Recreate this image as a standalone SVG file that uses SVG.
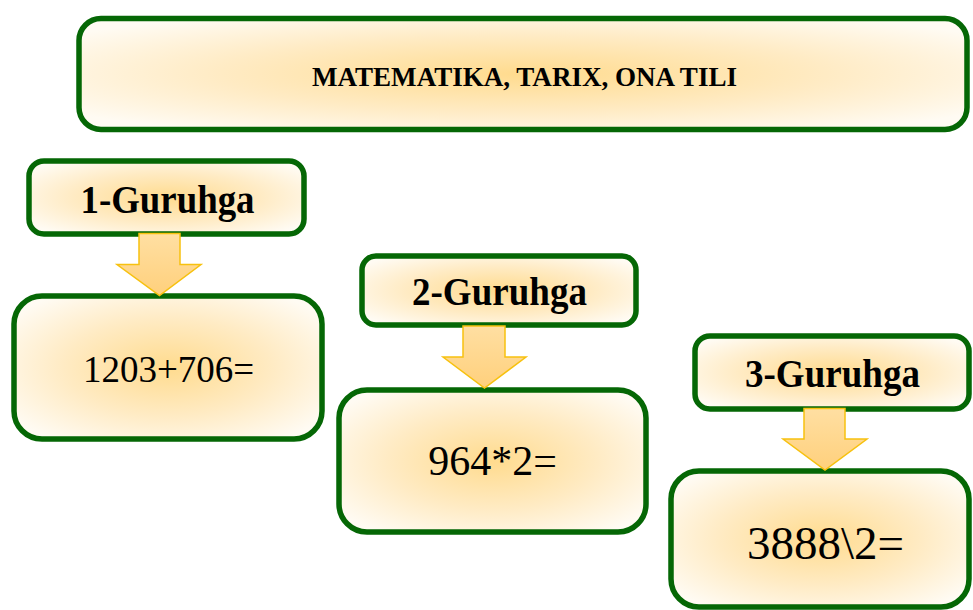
<svg xmlns="http://www.w3.org/2000/svg" width="973" height="610" viewBox="0 0 973 610">
  <defs>
    <radialGradient id="boxFill" cx="0.5" cy="0.5" r="0.62">
      <stop offset="0" stop-color="#FFDB8E"/>
      <stop offset="0.55" stop-color="#FFEBC4"/>
      <stop offset="1" stop-color="#FFFBF3"/>
    </radialGradient>
    <linearGradient id="arrowFill" x1="0" y1="0" x2="0" y2="1">
      <stop offset="0" stop-color="#FFDFA2"/>
      <stop offset="1" stop-color="#FFD07C"/>
    </linearGradient>
    <style>
      .box { fill: url(#boxFill); stroke: #056705; stroke-width: 5.5; }
      .arrow { fill: url(#arrowFill); stroke: #F7C10F; stroke-width: 1.5; stroke-linejoin: miter; }
      .title { font-family: "Liberation Serif", "Times New Roman", serif; font-weight: bold; fill: #000; text-anchor: middle; }
      .num { font-family: "Liberation Serif", "Times New Roman", serif; fill: #000; text-anchor: middle; }
    </style>
  </defs>
  <rect width="973" height="610" fill="#FFFFFF"/>

  <g id="node-subjects">
    <rect class="box" x="79" y="18.5" width="888" height="111" rx="22"/>
    <text class="title" x="524.5" y="85.5" font-size="27" textLength="425" lengthAdjust="spacingAndGlyphs">MATEMATIKA, TARIX, ONA TILI</text>
  </g>

  <g id="node-group1">
    <rect class="box" x="29" y="161" width="275" height="73" rx="15"/>
    <text class="title" x="167.5" y="213" font-size="40" textLength="174" lengthAdjust="spacingAndGlyphs">1-Guruhga</text>
  </g>

  <g id="node-task1">
    <rect class="box" x="14" y="296" width="308" height="143" rx="28"/>
    <text class="num" x="168.5" y="382" font-size="37">1203+706=</text>
  </g>

  <g id="node-group2">
    <rect class="box" x="362" y="256" width="274" height="69" rx="14"/>
    <text class="title" x="499.5" y="305" font-size="40" textLength="175" lengthAdjust="spacingAndGlyphs">2-Guruhga</text>
  </g>

  <g id="node-task2">
    <rect class="box" x="339" y="390" width="307" height="142" rx="28"/>
    <text class="num" x="492.5" y="475" font-size="42">964*2=</text>
  </g>

  <g id="node-group3">
    <rect class="box" x="695" y="336" width="274" height="73" rx="15"/>
    <text class="title" x="832.5" y="387" font-size="40" textLength="175" lengthAdjust="spacingAndGlyphs">3-Guruhga</text>
  </g>

  <g id="node-task3">
    <rect class="box" x="671" y="471" width="298" height="136" rx="28"/>
    <text class="num" x="825.5" y="559" font-size="47">3888\2=</text>
  </g>

  <g id="connectors">
    <polygon class="arrow" points="139,233.5 180,233.5 180,264.5 201,264.5 159.5,295.5 117,264.5 139,264.5"/>
    <polygon class="arrow" points="463,326 505,326 505,357 526,357 484.5,388 443,357 463,357"/>
    <polygon class="arrow" points="804,408.5 845,408.5 845,439 867,439 825,470 783,439 804,439"/>
  </g>
</svg>
